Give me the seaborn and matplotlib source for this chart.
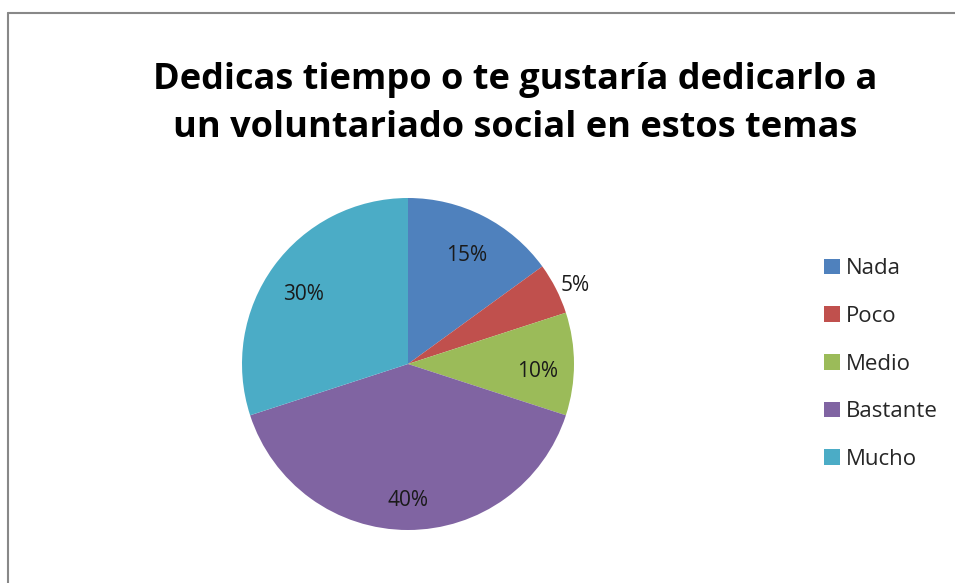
import matplotlib
matplotlib.use("Agg")
import matplotlib.pyplot as plt
import seaborn as sns
import numpy as np
from matplotlib.patches import Patch
from matplotlib.lines import Line2D

categories = ["Nada", "Poco", "Medio", "Bastante", "Mucho"]
values = [15, 5, 10, 40, 30]
colors = ["#4F81BD", "#C0504D", "#9BBB59", "#8064A2", "#4BACC6"]
title = "Dedicas tiempo o te gustaría dedicarlo a\nun voluntariado social en estos temas"

sns.set_theme(style="white")
plt.rcParams['font.family'] = ['Open Sans', 'DejaVu Sans']

W, H = 955, 583
fig = plt.figure(figsize=(W / 100, H / 100), dpi=100)

# pie centre (408, 364) px, radius 166 px
cx, cy, r = 408, 364, 166
ax = fig.add_axes([(cx - r) / W, (H - cy - r) / H, 2 * r / W, 2 * r / H])
wedges, texts, autotexts = ax.pie(values, colors=colors, startangle=90, counterclock=False,
                                  autopct='%1.0f%%', pctdistance=0.78,
                                  textprops={'fontsize': 15, 'color': '#1a1a1a'},
                                  wedgeprops={'linewidth': 0})
ax.set_xlim(-1, 1)
ax.set_ylim(-1, 1)
ax.set_aspect('equal')
ax.axis('off')

# small slice label placed outside, like the original
w = wedges[1]
ang = np.deg2rad((w.theta1 + w.theta2) / 2)
autotexts[1].set_position((1.13 * np.cos(ang), 1.13 * np.sin(ang)))
# labels sit a little low in the original
for t in autotexts:
    x, y = t.get_position()
    t.set_position((x, y - 7 / r))

fig.text(0.539, 0.822, title, ha='center', va='center', fontsize=26, fontweight='bold',
         linespacing=1.45, color='black')

handles = [Patch(facecolor=c, edgecolor='none') for c in colors]
fig.legend(handles, categories, loc='center left', bbox_to_anchor=(804 / W, 1 - 364 / H),
           frameon=False, fontsize=16, handlelength=0.7, handleheight=0.7,
           handletextpad=0.3, labelspacing=1.2)

# outer frame (only left and top edges are visible)
fig.add_artist(Line2D([8 / W, 8 / W], [0, 1 - 12.5 / H], color='#888888', lw=1.5, transform=fig.transFigure))
fig.add_artist(Line2D([8 / W, 1], [1 - 12.5 / H, 1 - 12.5 / H], color='#888888', lw=1.5, transform=fig.transFigure))

fig.savefig("out.png", dpi=100)
